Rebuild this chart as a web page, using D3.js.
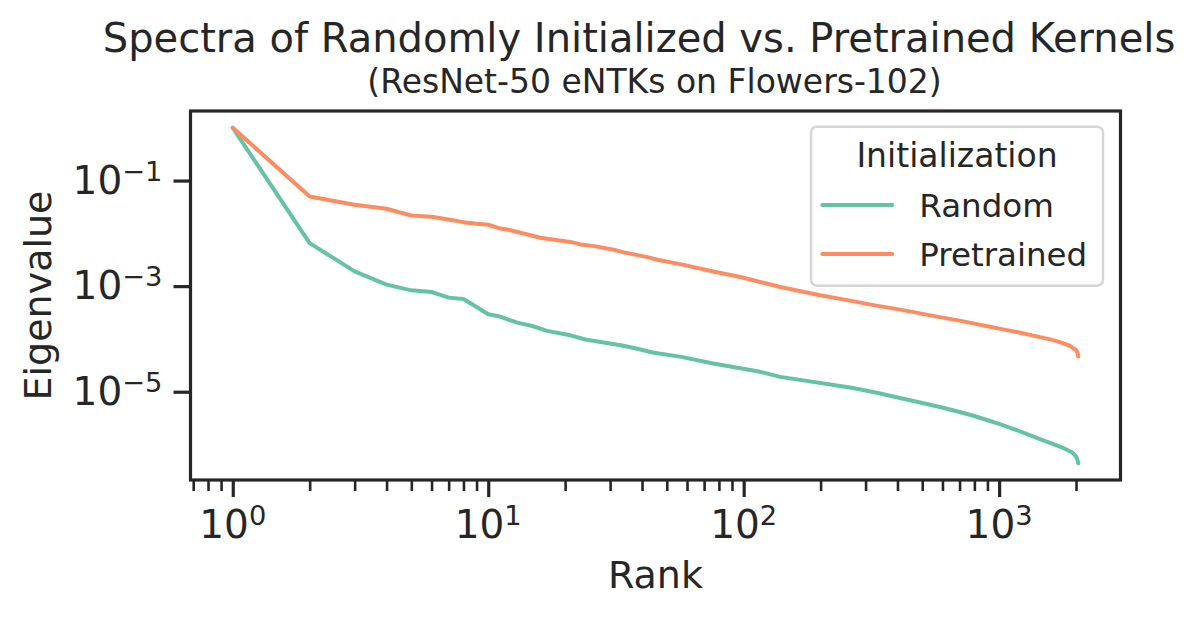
<!DOCTYPE html>
<html>
<head>
<meta charset="utf-8">
<script src="https://cdn.jsdelivr.net/npm/d3@7"></script>
<style>
    body { margin: 0; background: #ffffff; }
    text { font-family: "DejaVu Sans", sans-serif; fill: #262626; }
</style>
</head>
<body>
<div id="chart"></div>
<script>
// eigenvalue spectra (rank -> eigenvalue)
const ranksRandom = [1, 2, 3, 4, 5, 6, 7, 8, 9, 10, 11, 12, 13, 15, 17, 21, 24, 33, 38, 44, 57, 76, 97, 116, 139,
    261, 322, 435, 587, 700, 800, 921, 1000, 1200, 1445, 1600, 1700, 1800, 1900, 1951, 2000, 2020, 2030, 2036, 2040];
const valuesRandom = [1.0, 0.00653, 0.00190, 0.00107, 0.000833, 0.000774, 0.000606, 0.000571, 0.000403, 0.000293,
    0.000269, 0.000231, 0.000204, 0.000174, 0.000142, 0.000117, 0.0000975, 0.0000760, 0.0000659, 0.0000553,
    0.0000457, 0.0000343, 0.0000279, 0.0000238, 0.0000191, 0.0000120, 0.00000986, 0.00000711, 0.00000513,
    0.00000413, 0.00000347, 0.00000279, 0.00000245, 0.00000180, 0.00000127, 0.00000105, 9.39e-7, 8.42e-7,
    7.39e-7, 6.78e-7, 5.94e-7, 5.33e-7, 4.93e-7, 4.64e-7, 4.42e-7];

const ranksPretrained = [1, 2, 3, 4, 5, 6, 7, 8, 9, 10, 11, 12, 13, 14, 16, 19, 21, 23, 26, 31, 34, 42, 46, 57, 76,
    97, 116, 139, 199, 261, 322, 400, 587, 700, 800, 921, 1000, 1200, 1445, 1600, 1700, 1800, 1900, 1951, 2000,
    2020, 2030, 2036, 2040];
const valuesPretrained = [1.0, 0.0498, 0.0347, 0.0292, 0.0218, 0.0206, 0.0183, 0.0163, 0.0152, 0.01454, 0.01254,
    0.01169, 0.01063, 0.00975, 0.00826, 0.00734, 0.00688, 0.00617, 0.00573, 0.00490, 0.00436, 0.00355, 0.00317,
    0.00258, 0.00190, 0.00149, 0.00120, 0.000962, 0.000670, 0.000532, 0.000437, 0.000367, 0.000259, 0.000222,
    0.000195, 0.000170, 0.000157, 0.000132, 0.000108, 0.0000972, 0.0000891, 0.0000817, 0.0000733, 0.0000657,
    0.0000621, 0.0000569, 0.0000528, 0.0000494, 0.0000463];

const seriesNames = ["Random", "Pretrained"];
const seriesColors = ["#66c2a5", "#fc8d62"];

// tick labels
const xMajorTicks = [1, 10, 100, 1000];
const xTickExps = ["0", "1", "2", "3"];
const yMajorTicks = [1e-1, 1e-3, 1e-5];
const yTickExps = ["\u22121", "\u22123", "\u22125"];

const W = 1196, H = 619;
const margin = {top: 111, right: 75.5, bottom: 139, left: 190.5};
const width = W - margin.left - margin.right;
const height = H - margin.top - margin.bottom;

const svg = d3.select("#chart").append("svg")
    .attr("width", W)
    .attr("height", H);

// log axes with 5% padding like matplotlib
function padLog(lo, hi) {
    const a = Math.log10(lo), b = Math.log10(hi), p = (b - a) * 0.05;
    return [Math.pow(10, a - p), Math.pow(10, b + p)];
}
const allVals = valuesRandom.concat(valuesPretrained);
const allRanks = ranksRandom.concat(ranksPretrained);

const x = d3.scaleLog()
    .domain(padLog(d3.min(allRanks), d3.max(allRanks)))
    .range([0, width]);
const y = d3.scaleLog()
    .domain(padLog(d3.min(allVals), d3.max(allVals)))
    .range([height, 0]);

const g = svg.append("g")
    .attr("transform", "translate(" + margin.left + "," + margin.top + ")");

// minor x ticks
let xMinorTicks = [];
for (let e = -1; e <= 3; e++) {
    for (let m = 2; m <= 9; m++) {
        let v = m * Math.pow(10, e);
        if (v >= x.domain()[0] && v <= x.domain()[1]) xMinorTicks.push(v);
    }
}

const xMinor = g.append("g")
    .attr("transform", "translate(0," + height + ")")
    .call(d3.axisBottom(x).tickValues(xMinorTicks).tickSize(11).tickFormat(() => ""));
const xMajor = g.append("g")
    .attr("transform", "translate(0," + height + ")")
    .call(d3.axisBottom(x).tickValues(xMajorTicks).tickSize(17).tickFormat(() => ""));
const yMajor = g.append("g")
    .call(d3.axisLeft(y).tickValues(yMajorTicks).tickSize(17).tickFormat(() => ""));

[xMinor, xMajor, yMajor].forEach(ax => {
    ax.select(".domain").remove();
    ax.selectAll(".tick line").attr("stroke", "#262626");
});
xMinor.selectAll(".tick line").attr("stroke-width", 2.6);
xMajor.selectAll(".tick line").attr("stroke-width", 3.2);
yMajor.selectAll(".tick line").attr("stroke-width", 3.2);

// tick labels with superscripts
xMajorTicks.forEach((d, i) => {
    const t = g.append("text")
        .attr("x", x(d))
        .attr("y", height + 58)
        .attr("text-anchor", "middle")
        .style("font-size", "39px")
        .text("10");
    t.append("tspan")
        .attr("dy", -13)
        .style("font-size", "27.3px")
        .text(xTickExps[i]);
});
yMajorTicks.forEach((d, i) => {
    const t = g.append("text")
        .attr("x", -28)
        .attr("y", y(d) + 13)
        .attr("text-anchor", "end")
        .style("font-size", "39px")
        .text("10");
    t.append("tspan")
        .attr("dy", -13)
        .style("font-size", "27.3px")
        .text(yTickExps[i]);
});

// lines
const line = d3.line()
    .x(d => x(d[0]))
    .y(d => y(d[1]));

const series = [
    d3.zip(ranksRandom, valuesRandom),
    d3.zip(ranksPretrained, valuesPretrained)
];

series.forEach((s, i) => {
    g.append("path")
        .datum(s)
        .attr("fill", "none")
        .attr("stroke", seriesColors[i])
        .attr("stroke-width", 4)
        .attr("stroke-linejoin", "round")
        .attr("stroke-linecap", "round")
        .attr("d", line);
});

// frame
g.append("rect")
    .attr("width", width)
    .attr("height", height)
    .attr("fill", "none")
    .attr("stroke", "#262626")
    .attr("stroke-width", 3.2);

// legend
const legend = g.append("g")
    .attr("transform", "translate(" + (811 - margin.left) + "," + (126.7 - margin.top) + ")");
legend.append("rect")
    .attr("width", 292)
    .attr("height", 159)
    .attr("rx", 6)
    .attr("fill", "#ffffff")
    .attr("fill-opacity", 0.8)
    .attr("stroke", "#d6d6d6")
    .attr("stroke-width", 2.5);
legend.append("text")
    .attr("x", 146)
    .attr("y", 40.6)
    .attr("text-anchor", "middle")
    .style("font-size", "33px")
    .text("Initialization");
seriesNames.forEach((name, i) => {
    const yy = 78.3 + i * 49;
    legend.append("line")
        .attr("x1", 11.3)
        .attr("x2", 81.3)
        .attr("y1", yy)
        .attr("y2", yy)
        .attr("stroke", seriesColors[i])
        .attr("stroke-width", 4)
        .attr("stroke-linecap", "round");
    legend.append("text")
        .attr("x", 108.3)
        .attr("y", yy + 11.7)
        .style("font-size", "32.5px")
        .text(name);
});

// axis labels
g.append("text")
    .attr("x", width / 2)
    .attr("y", 588 - margin.top)
    .attr("text-anchor", "middle")
    .style("font-size", "38px")
    .text("Rank");
g.append("text")
    .attr("transform", "translate(" + (51 - margin.left) + "," + (height / 2) + ") rotate(-90)")
    .attr("text-anchor", "middle")
    .style("font-size", "38px")
    .text("Eigenvalue");

// titles
svg.append("text")
    .attr("x", 639)
    .attr("y", 51.5)
    .attr("text-anchor", "middle")
    .style("font-size", "40px")
    .text("Spectra of Randomly Initialized vs. Pretrained Kernels");
svg.append("text")
    .attr("x", 654.5)
    .attr("y", 92.5)
    .attr("text-anchor", "middle")
    .style("font-size", "33px")
    .text("(ResNet-50 eNTKs on Flowers-102)");
</script>
</body>
</html>
